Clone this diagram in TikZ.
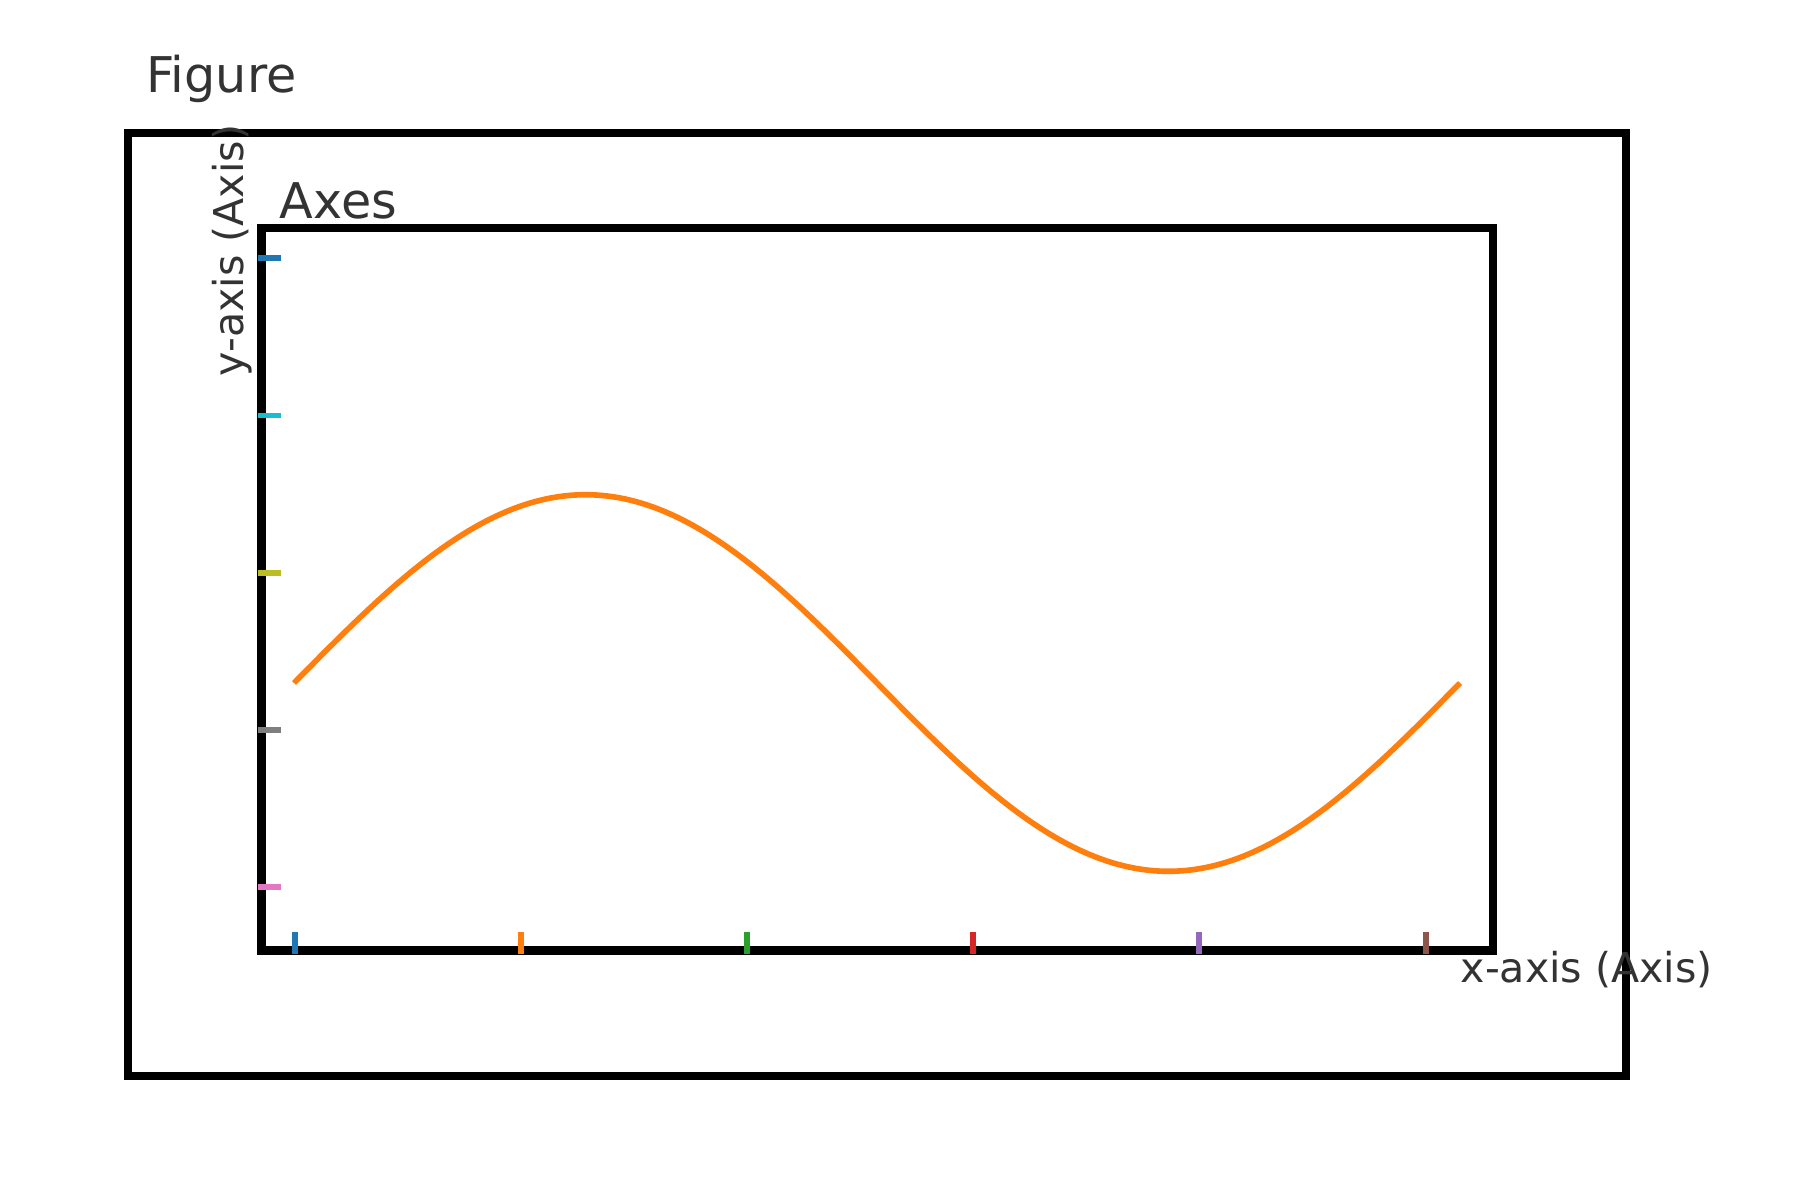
\documentclass[tikz,border=0pt]{standalone}
\usepackage{fontspec}
\setmainfont{DejaVu Sans}
\definecolor{tabblue}{HTML}{1F77B4}
\definecolor{taborange}{HTML}{FF7F0E}
\definecolor{tabgreen}{HTML}{2CA02C}
\definecolor{tabred}{HTML}{D62728}
\definecolor{tabpurple}{HTML}{9467BD}
\definecolor{tabbrown}{HTML}{8C564B}
\definecolor{tabpink}{HTML}{E377C2}
\definecolor{tabgray}{HTML}{7F7F7F}
\definecolor{tabolive}{HTML}{BCBD22}
\definecolor{tabcyan}{HTML}{17BECF}
\definecolor{labelgray}{HTML}{333333}
\begin{document}
\begin{tikzpicture}[x=0.01cm,y=-0.01cm,
	frame/.style={draw=black, line width=2.3pt},
	title/.style={inner sep=0pt, text=labelgray, font=\fontsize{14}{16}\selectfont},
	axlabel/.style={inner sep=0pt, text=labelgray, font=\fontsize{11.7}{14}\selectfont},
	tick/.style={line width=1.7pt}]
	\useasboundingbox (0,0) rectangle (1800,1200);
	% figure and axes frames
	\coordinate (F1) at (128, 133);
	\coordinate (F2) at (1626, 1076);
	\coordinate (A1) at (261.5, 228);
	\coordinate (A2) at (1493, 950.5);
	\draw[frame] (F1) rectangle (F2);
	\draw[frame] (A1) rectangle (A2);
	% ticks
	\foreach \i/\c in {0/tabblue, 1/taborange, 2/tabgreen, 3/tabred, 4/tabpurple, 5/tabbrown}
		\draw[tick, \c] ({295+226.1*\i}, 954) -- ({295+226.1*\i}, 932);
	\foreach \i/\c in {0/tabpink, 1/tabgray, 2/tabolive, 3/tabcyan, 4/tabblue}
		\draw[tick, \c] (258, {887.4-157.3*\i}) -- (281, {887.4-157.3*\i});
	% curve
	\draw[taborange, line width=1.6pt]
		plot[domain=0:360, samples=120, smooth] ({294+3.2389*\x}, {683-188.3*sin(\x)});
	% labels
	\node (figtitle)  at (145.5, 92)  [title, anchor=base west]	{Figure};
	\node (axtitle)   at (279, 218) [title, anchor=base west]	{Axes};
	\node (xlabel)    at (1460, 982) [axlabel, anchor=base west]	{x-axis (Axis)};
	\node (ylabel)    at (243, 377) [axlabel, anchor=base west, rotate=90]	{y-axis (Axis)};
\end{tikzpicture}
\end{document}
